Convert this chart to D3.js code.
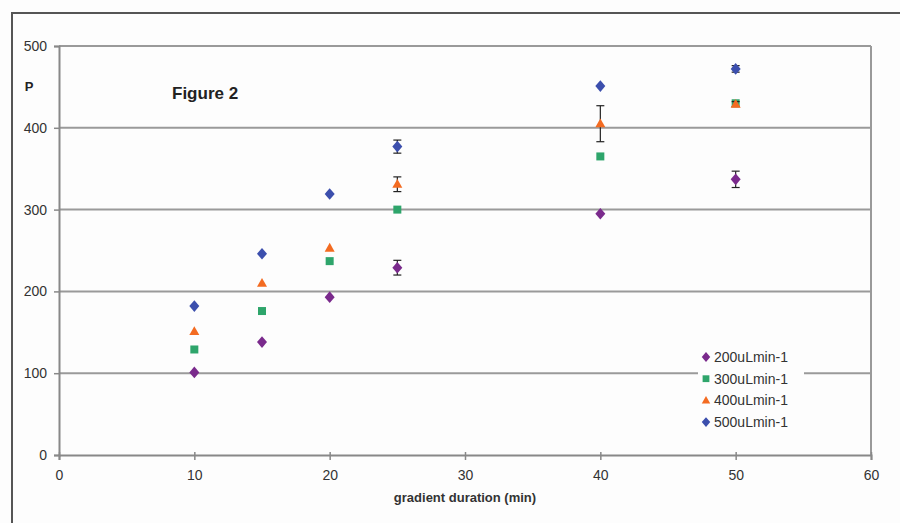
<!DOCTYPE html>
<html><head><meta charset="utf-8">
<script src="https://cdn.jsdelivr.net/npm/d3@7"></script>
<style>body{margin:0;background:#fff}svg{display:block}text{font-family:"Liberation Sans",Arial,sans-serif}</style>
</head><body>
<script>
const durations = [10, 15, 20, 25, 40, 50];
const s200 = [101, 138, 193, 229, 295, 337];
const s300 = [129, 176, 237, 300, 365, 430];
const s400 = [151, 210, 253, 331, 405, 429];
const s500 = [182, 246, 319, 377, 451, 472];
const e200 = [0, 0, 0, 9, 0, 10];
const e300 = [0, 0, 0, 0, 0, 0];
const e400 = [0, 0, 0, 9, 22, 3];
const e500 = [0, 0, 0, 8, 0, 4];
const seriesNames = ["200uLmin-1", "300uLmin-1", "400uLmin-1", "500uLmin-1"];
const xTicks = [0, 10, 20, 30, 40, 50, 60];
const yTicks = [0, 100, 200, 300, 400, 500];

const W = 900, H = 523;
const m = {l: 59, r: 871, t: 46, b: 455};
const svg = d3.select("body").append("svg").attr("width", W).attr("height", H);
svg.append("rect").attr("width", W).attr("height", H).attr("fill", "#fdfdfd");
svg.append("path").attr("d", `M12,${H} L12,13 L${W + 5},13`).attr("fill", "none").attr("stroke", "#555").attr("stroke-width", 2);

const x = d3.scaleLinear().domain([0, 60]).range([m.l, m.r]);
const y = d3.scaleLinear().domain([0, 500]).range([m.b, m.t]);

svg.append("g").selectAll("line").data(yTicks.filter(d => d > 0)).join("line")
  .attr("x1", m.l).attr("x2", m.r).attr("y1", d => y(d)).attr("y2", d => y(d))
  .attr("stroke", "#9a9a9a").attr("stroke-width", 2);
svg.append("line").attr("x1", m.r).attr("x2", m.r).attr("y1", m.t).attr("y2", m.b)
  .attr("stroke", "#9a9a9a").attr("stroke-width", 2);

const xAxis = svg.append("g").attr("transform", `translate(0,${m.b})`)
  .call(d3.axisBottom(x).tickValues(xTicks).tickSize(5).tickPadding(10));
const yAxis = svg.append("g").attr("transform", `translate(${m.l},0)`)
  .call(d3.axisLeft(y).tickValues(yTicks).tickSize(5).tickPadding(7));
[xAxis, yAxis].forEach(g => {
  g.select(".domain").attr("stroke", "#888").attr("stroke-width", 2);
  g.selectAll(".tick line").attr("stroke", "#888").attr("stroke-width", 1.5);
  g.selectAll(".tick text").attr("fill", "#333").attr("font-size", 14)
    .attr("font-family", "Liberation Sans, Arial, sans-serif");
});
xAxis.selectAll(".tick line").attr("y1", -3);

svg.append("text").attr("x", 29).attr("y", 91).attr("text-anchor", "middle")
  .attr("font-weight", "bold").attr("font-size", 13).attr("fill", "#222").text("P");
svg.append("text").attr("x", 172).attr("y", 99)
  .attr("font-weight", "bold").attr("font-size", 17).attr("fill", "#222").text("Figure 2");
svg.append("text").attr("x", x(30)).attr("y", 502).attr("text-anchor", "middle")
  .attr("font-weight", "bold").attr("font-size", 13).attr("fill", "#333").text("gradient duration (min)");

const diamond = (hw, hh) => `M0,${-hh}L${hw},0L0,${hh}L${-hw},0Z`;
const series = [
  {name: seriesNames[0], vals: s200, err: e200, color: "#7a2a8c", shape: "diamond"},
  {name: seriesNames[1], vals: s300, err: e300, color: "#2ea56b", shape: "square"},
  {name: seriesNames[2], vals: s400, err: e400, color: "#f36b21", shape: "triangle"},
  {name: seriesNames[3], vals: s500, err: e500, color: "#3c4fad", shape: "diamond"}
];
function shapePath(shape, k) {
  if (shape === "diamond") return diamond(5 * k, 5.8 * k);
  if (shape === "square") return `M${-4 * k},${-4 * k}h${8 * k}v${8 * k}h${-8 * k}Z`;
  return `M0,${-5.2 * k}L${5 * k},${3.6 * k}L${-5 * k},${3.6 * k}Z`;
}

series.forEach(s => {
  const g = svg.append("g");
  durations.forEach((d, i) => {
    const e = s.err[i];
    if (e > 0) {
      const cx = x(d), y1 = y(s.vals[i] + e), y2 = y(s.vals[i] - e);
      g.append("line").attr("x1", cx).attr("x2", cx).attr("y1", y1).attr("y2", y2).attr("stroke", "#222").attr("stroke-width", 1.2);
      [y1, y2].forEach(yy => g.append("line").attr("x1", cx - 4).attr("x2", cx + 4).attr("y1", yy).attr("y2", yy).attr("stroke", "#222").attr("stroke-width", 1.2));
    }
  });
  g.selectAll("path").data(durations).join("path")
    .attr("d", shapePath(s.shape, 1))
    .attr("transform", (d, i) => `translate(${x(d)},${y(s.vals[i])})`)
    .attr("fill", s.color);
});

const lg = svg.append("g");
lg.append("rect").attr("x", 698).attr("y", 343).attr("width", 106).attr("height", 88).attr("fill", "#fdfdfd");
series.forEach((s, i) => {
  const yy = 357 + i * 21.7;
  lg.append("path").attr("d", shapePath(s.shape, 0.85))
    .attr("transform", `translate(706,${yy})`).attr("fill", s.color);
  lg.append("text").attr("x", 714).attr("y", yy + 5).attr("font-size", 14).attr("fill", "#333").text(s.name);
});
</script>
</body></html>
